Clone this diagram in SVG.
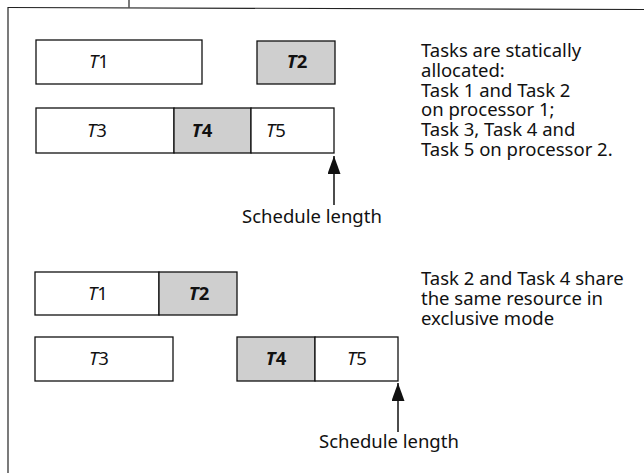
<svg xmlns="http://www.w3.org/2000/svg" width="644" height="473" viewBox="0 0 644 473">
<style>
.frame{stroke:#222;stroke-width:1.2;fill:none}
.box{stroke:#111;stroke-width:1.3;fill:#fff}
.shade{stroke:#111;stroke-width:1.3;fill:#cfcfcf}
.lbl{font-family:"Noto Sans","Open Sans",sans-serif;font-size:18.5px;fill:#111;text-anchor:middle}
.b{font-weight:bold}
.it{font-style:italic}
.note{font-family:"Noto Sans","Open Sans",sans-serif;font-size:18.5px;fill:#111}
.conn{stroke:#111;stroke-width:1.5;fill:none}
</style>
<defs>
<marker id="ah" markerWidth="18" markerHeight="13" refX="18" refY="6.5" orient="auto" markerUnits="userSpaceOnUse" viewBox="0 0 18 13">
<path d="M0,0 L18,6.5 L0,13 Z" fill="#111"/>
</marker>
</defs>
<g id="frame">
<line class="frame" x1="8" y1="7.5" x2="644" y2="9.5"/>
<line class="frame" x1="8" y1="7" x2="8" y2="473"/>
<line class="frame" x1="129" y1="0" x2="129" y2="7.5"/>
</g>
<g id="top-T1"><rect class="box" x="36" y="40" width="166" height="44"/><text class="lbl" x="99" y="68"><tspan class="it">T</tspan>1</text></g>
<g id="top-T2"><rect class="shade" x="257" y="41" width="78" height="43"/><text class="lbl b" x="297" y="68"><tspan class="it">T</tspan>2</text></g>
<g id="top-T3"><rect class="box" x="36" y="108" width="138" height="45"/><text class="lbl" x="97" y="137"><tspan class="it">T</tspan>3</text></g>
<g id="top-T4"><rect class="shade" x="174" y="108" width="77" height="45"/><text class="lbl b" x="202" y="137"><tspan class="it">T</tspan>4</text></g>
<g id="top-T5"><rect class="box" x="251" y="108" width="83" height="45"/><text class="lbl" x="276" y="137"><tspan class="it">T</tspan>5</text></g>
<g id="top-note">
<text class="note" x="421" y="57"><tspan x="421">Tasks are statically</tspan><tspan x="421" dy="19.8">allocated:</tspan><tspan x="421" dy="19.8">Task 1 and Task 2</tspan><tspan x="421" dy="19.8">on processor 1;</tspan><tspan x="421" dy="19.8">Task 3, Task 4 and</tspan><tspan x="421" dy="19.8">Task 5 on processor 2.</tspan></text>
</g>
<g id="top-sched"><text class="note" x="242" y="223">Schedule length</text></g>
<g id="bot-T1"><rect class="box" x="35" y="272" width="124" height="43"/><text class="lbl" x="98" y="300"><tspan class="it">T</tspan>1</text></g>
<g id="bot-T2"><rect class="shade" x="159" y="272" width="78" height="43"/><text class="lbl b" x="199" y="300"><tspan class="it">T</tspan>2</text></g>
<g id="bot-T3"><rect class="box" x="35" y="337" width="138" height="44"/><text class="lbl" x="99" y="365"><tspan class="it">T</tspan>3</text></g>
<g id="bot-T4"><rect class="shade" x="237" y="337" width="78" height="44"/><text class="lbl b" x="276" y="365"><tspan class="it">T</tspan>4</text></g>
<g id="bot-T5"><rect class="box" x="315" y="337" width="83" height="44"/><text class="lbl" x="357" y="365"><tspan class="it">T</tspan>5</text></g>
<g id="bot-note">
<text class="note" x="421" y="285"><tspan x="421">Task 2 and Task 4 share</tspan><tspan x="421" dy="19.8">the same resource in</tspan><tspan x="421" dy="19.8">exclusive mode</tspan></text>
</g>
<g id="bot-sched"><text class="note" x="319" y="448">Schedule length</text></g>
<g id="connectors">
<line class="conn" x1="334" y1="205" x2="334" y2="156" marker-end="url(#ah)"/>
<line class="conn" x1="398" y1="432" x2="398" y2="383" marker-end="url(#ah)"/>
</g>
</svg>
